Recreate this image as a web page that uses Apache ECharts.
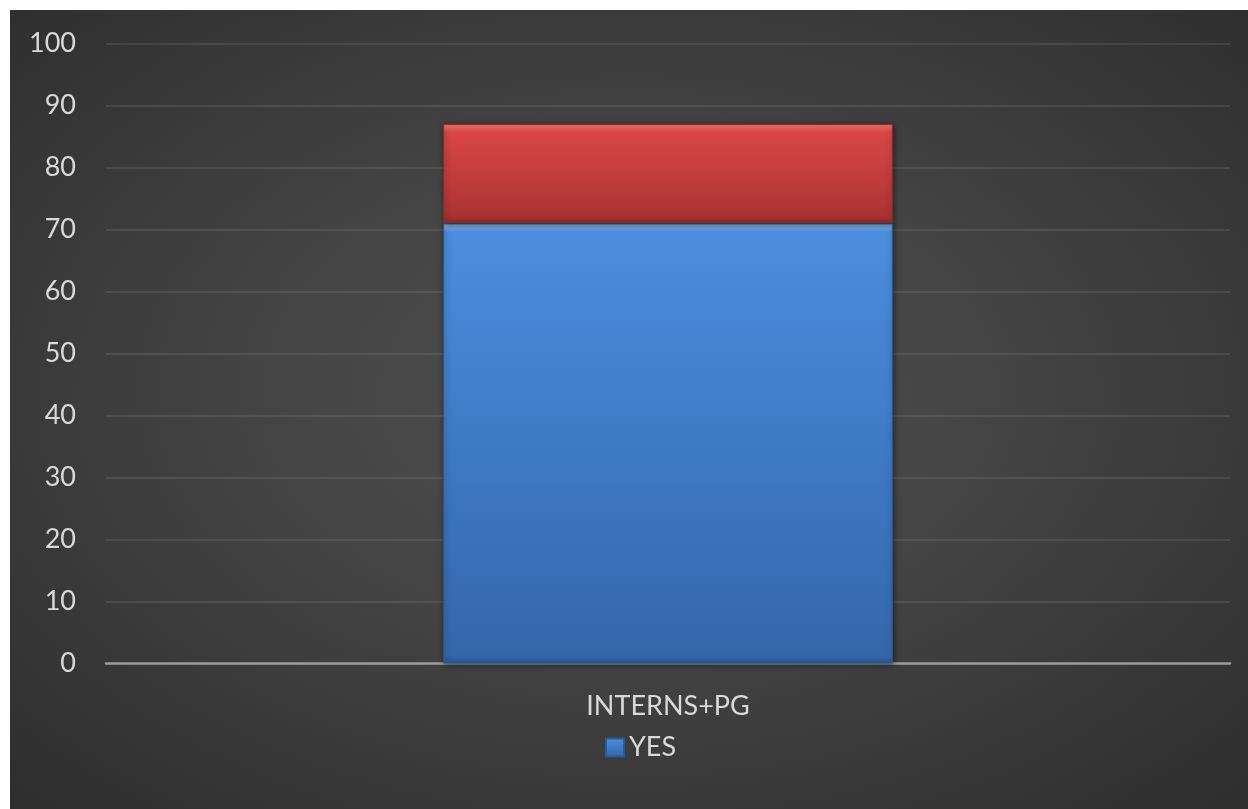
<!DOCTYPE html>
<html>
<head>
<meta charset="utf-8">
<script src="https://cdn.jsdelivr.net/npm/echarts@6/dist/echarts.min.js"></script>
<style>
  html, body { margin: 0; padding: 0; background: #ffffff; }
  #chart {
    position: absolute; left: 10px; top: 10px; width: 1238px; height: 799px;
    background: radial-gradient(ellipse 75% 75% at 50% 48%, #4f4f4f 0%, #444444 40%, #2c2c2c 100%);
  }
</style>
</head>
<body>
<div id="chart"></div>
<script>
// Survey response among interns and postgraduates (percent)
const categories = ['INTERNS+PG'];
const yesValues = [71];
const noValues = [16];
const legendNames = ['YES'];

const FONT = 'Lato, "Open Sans", "DejaVu Sans", sans-serif';

function vgrad(stops) {
  return new echarts.graphic.LinearGradient(0, 0, 0, 1, stops);
}

const chart = echarts.init(document.getElementById('chart'), null, { renderer: 'canvas' });

chart.setOption({
  animation: false,
  backgroundColor: 'transparent',
  grid: { left: 96, right: 18, top: 33.5, bottom: 145.5, containLabel: false },
  legend: {
    data: legendNames,
    bottom: 43,
    left: 590,
    itemWidth: 18,
    itemHeight: 18,
    icon: 'rect',
    textStyle: { color: '#d9d9d9', fontSize: 27, fontFamily: FONT },
    selectedMode: false
  },
  xAxis: {
    type: 'category',
    data: categories,
    axisLine: { show: true, lineStyle: { color: '#9a9a9a', width: 2.5 } },
    axisTick: { show: false },
    axisLabel: { color: '#d9d9d9', fontSize: 27, fontFamily: FONT, margin: 29 }
  },
  yAxis: {
    type: 'value',
    min: 0,
    max: 100,
    interval: 10,
    axisLine: { show: false },
    axisTick: { show: false },
    axisLabel: { color: '#d9d9d9', fontSize: 27, fontFamily: FONT, margin: 30 },
    splitLine: { lineStyle: { color: 'rgba(255,255,255,0.12)', width: 1.5 } }
  },
  series: [
    {
      name: 'YES',
      type: 'bar',
      stack: 'total',
      barWidth: '40%',
      data: yesValues,
      itemStyle: {
        color: vgrad([
          { offset: 0, color: '#8ccaf8' },
          { offset: 0.012, color: '#6aa9ec' },
          { offset: 0.02, color: '#4c8ddd' },
          { offset: 0.5, color: '#3f7ac6' },
          { offset: 0.985, color: '#3467aa' },
          { offset: 1, color: '#2a5590' }
        ]),
        borderColor: '#2b5a96',
        borderWidth: 1,
        shadowColor: 'rgba(0,0,0,0.55)',
        shadowBlur: 6,
        shadowOffsetX: 1,
        shadowOffsetY: 1
      }
    },
    {
      name: 'NO',
      type: 'bar',
      stack: 'total',
      barWidth: '40%',
      data: noValues,
      itemStyle: {
        color: vgrad([
          { offset: 0, color: '#f87a76' },
          { offset: 0.05, color: '#e85a58' },
          { offset: 0.09, color: '#d84646' },
          { offset: 0.5, color: '#c43d3d' },
          { offset: 0.93, color: '#ab3333' },
          { offset: 1, color: '#8e2a2a' }
        ]),
        borderColor: '#8c2b2b',
        borderWidth: 1,
        shadowColor: 'rgba(0,0,0,0.55)',
        shadowBlur: 6,
        shadowOffsetX: 1,
        shadowOffsetY: 1
      }
    }
  ]
});
</script>
</body>
</html>
